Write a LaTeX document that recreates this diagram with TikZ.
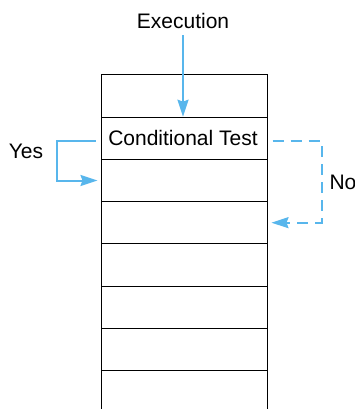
\documentclass[tikz,border=0pt]{standalone}
\usepackage{fontspec}
\setmainfont{Liberation Sans}
\usetikzlibrary{positioning,arrows.meta}
\definecolor{flowblue}{RGB}{88,182,236}

\begin{document}
\begin{tikzpicture}[x=1pt,y=-1pt,>={Stealth[length=17pt,width=11pt,inset=2pt]},
  cell/.style={draw,line width=1pt,minimum width=166pt,minimum height=42.2pt,inner sep=0pt},
  flow/.style={->,flowblue,line width=2pt},
  lbl/.style={font=\fontsize{21}{25}\selectfont}]
  \useasboundingbox (0,0) rectangle (355,409);
  % the stack of memory cells
  \foreach \i in {1,...,8}
    \node[cell] (r\i) at (184,{75+21.1+42.2*(\i-1)}) {};
  \node[lbl] at ([xshift=-1pt]r2.center) {Conditional Test};
  \node[lbl] (exec) at (183,21) {Execution};
  \node[lbl] (yes) at (26,151) {Yes};
  \node[lbl] (no) at (343,182) {No};
  % flow of control
  \draw[flow] (exec.south) ++(0,3) -- (r2.north -| exec.south);
  \coordinate (ya) at ([xshift=-5pt,yshift=-3pt]r2.west);
  \coordinate (yb) at ([xshift=-3pt]r3.west);
  \draw[flow] (ya) -- ++(-39,0) |- (yb);
  \coordinate (na) at ([xshift=5pt,yshift=-3pt]r2.east);
  \coordinate (nb) at ([xshift=4pt]r4.east);
  \draw[flow,dashed,dash pattern=on 11pt off 7pt] (na) -- ++(49,0) |- (nb);
\end{tikzpicture}
\end{document}
